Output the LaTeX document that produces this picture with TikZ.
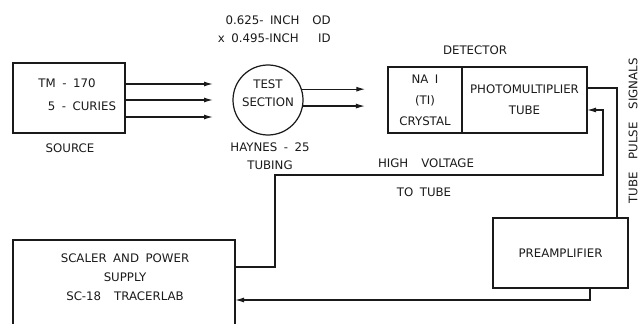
\documentclass[tikz,border=0pt]{standalone}
\usepackage{fontspec}
\setmainfont{DejaVu Sans}
\usepackage{tikz}
\usetikzlibrary{calc,positioning,arrows.meta}
\definecolor{RigInk}{HTML}{1A1A1A}
\newcommand\rigfont{\fontsize{6.7}{10.3}\selectfont\spaceskip=0.55em plus 0.1em\relax}

\tikzset{
  lbl/.style={text=RigInk,font=\rigfont,align=center,inner sep=0pt},
  unit/.style={lbl,draw=RigInk,line width=0.7pt,outer sep=0pt},
  wire/.style={draw=RigInk,line width=0.7pt},
  beam/.style={wire,-{Latex[length=1.8mm,width=1mm]}},
}

\begin{document}
\begin{tikzpicture}[x=0.2mm,y=-0.2mm]
  \useasboundingbox (0,0) rectangle (639,324);
  % source and test section
  \node[unit,minimum width=22.4mm,minimum height=14mm] (src) at (69,98) {};
  \node[lbl] (srcA) at (67,83) {TM - 170};
  \node[lbl] (srcB) at (82,106) {5 - CURIES};
  \node[lbl] (srcname) at (70,148) {SOURCE};
  \node[unit,circle,minimum size=14mm] (tsec) at (268,100) {};
  \node[lbl] (tsectxt) at (268,93) {TEST\\SECTION};
  \node[lbl] (tubing) at (270,156) {HAYNES - 25\\TUBING};
  \node[lbl,align=right,anchor=east] (dims) at (331,29) {0.625- INCH\ \ OD\\x 0.495-INCH\ \ \ ID};
  % detector
  \node[unit,minimum width=14.8mm,minimum height=13.2mm] (xtal) at (425,100) {NA I\\[1.6pt](TI)\\[1.6pt]CRYSTAL};
  \node[unit,minimum width=25mm,minimum height=13.2mm,right=0pt of xtal] (pmt) {PHOTOMULTIPLIER\\[1.6pt]TUBE};
  \node[lbl] (det) at (475,50) {DETECTOR};
  % electronics
  \node[unit,minimum width=27mm,minimum height=14mm] (pre) at (560.5,253) {PREAMPLIFIER};
  \node[minimum width=44.4mm,minimum height=20mm,inner sep=0pt,outer sep=0pt] (scal) at (124,290) {};
  \draw[wire] (scal.south west) -- (scal.north west) -- (scal.north east) -- (scal.south east);
  \node[lbl] (scaltxt) at (125,277) {SCALER AND POWER\\[0.6pt]SUPPLY\\[0.6pt]SC-18\ \ TRACERLAB};
  % beams
  \foreach \dy in {-14,2,19}
    \draw[beam] ($(src.east)+(0,\dy)$) -- ++(88,0);
  \draw[beam] (tsec.18) -- ++(64,0);
  \draw[beam] (tsec.-10) -- ++(62.5,0);
  % signal lines
  \draw[wire] ($(pmt.east)+(0,-12)$) -| ($(pre.north)+(56.5,0)$);
  \draw[beam] ($(scal.east)+(0,-23)$) -- ++(40,0) |- ($(pmt.east)+(16,75)$) |- ($(pmt.east)+(0,10)$);
  \draw[beam] ($(pre.south)+(29.5,0)$) |- ($(scal.east)+(0,10)$);
  \node[lbl,rotate=90] (pulse) at (633,131) {TUBE\ \ PULSE\ \ SIGNALS};
  \node[lbl] (hv) at (426,163) {HIGH\ \ VOLTAGE};
  \node[lbl] (hvto) at (424,192) {TO TUBE};
\end{tikzpicture}
\end{document}
